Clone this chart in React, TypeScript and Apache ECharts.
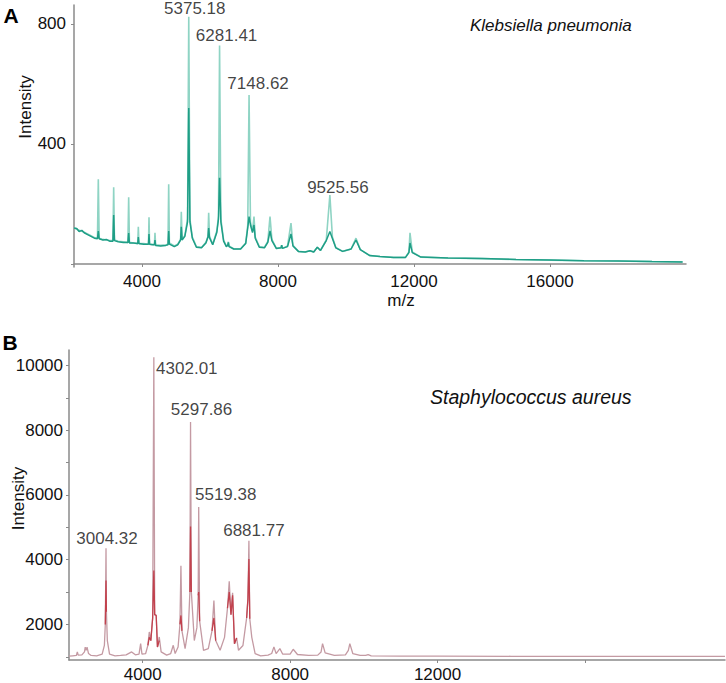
import React, { useEffect, useRef } from "react";
import * as echarts from "echarts";

// ---- Panel A: Klebsiella pneumonia  [m/z, light trace, dark trace]
const A_PROFILE: number[][] = [
  [2000, 120, 120], [2080, 116, 118], [2150, 112, 108], [2230, 110, 112], [2300, 106, 104],
  [2400, 100, 98], [2500, 94, 92], [2600, 88, 86], [2690, 86, 84], [2715, 282, 110],
  [2740, 86, 84], [2850, 82, 80], [2950, 80, 82], [3050, 78, 76], [3145, 78, 76],
  [3167, 256, 163], [3190, 80, 78], [3300, 76, 74], [3450, 74, 72], [3585, 72, 72],
  [3608, 222, 103], [3630, 72, 70], [3750, 70, 70], [3875, 68, 68], [3892, 124, 90],
  [3910, 68, 68], [4050, 68, 66], [4190, 66, 66], [4206, 156, 100], [4222, 66, 66],
  [4300, 66, 64], [4365, 64, 64], [4382, 104, 80], [4400, 64, 62], [4550, 62, 60],
  [4700, 64, 62], [4765, 66, 64], [4785, 266, 110], [4805, 70, 66], [4950, 60, 58],
  [5050, 66, 64], [5135, 82, 80], [5156, 174, 124], [5180, 82, 80], [5260, 95, 92],
  [5340, 150, 140], [5375.18, 824, 520], [5410, 150, 140], [5480, 90, 86], [5600, 58, 56],
  [5750, 55, 54], [5880, 72, 70], [5940, 92, 90], [5961, 171, 120], [5985, 92, 88],
  [6080, 66, 64], [6200, 110, 105], [6250, 160, 150], [6281.41, 728, 287], [6320, 150, 140],
  [6400, 80, 76], [6480, 60, 58], [6520, 64, 62], [6540, 74, 72], [6560, 60, 58],
  [6700, 50, 50], [6900, 50, 50], [7050, 70, 68], [7110, 130, 120], [7148.62, 563, 158],
  [7190, 140, 130], [7250, 110, 105], [7294, 158, 130], [7330, 90, 86], [7450, 58, 56],
  [7600, 55, 54], [7700, 75, 72], [7765, 158, 110], [7820, 82, 78], [7950, 52, 52],
  [8090, 54, 54], [8108, 63, 63], [8130, 52, 52], [8280, 60, 58], [8382, 136, 100],
  [8440, 62, 60], [8600, 42, 42], [8800, 40, 40], [8941, 44, 44], [9050, 40, 40],
  [9157, 56, 56], [9250, 45, 45], [9420, 80, 78], [9525.56, 230, 108], [9600, 90, 85],
  [9700, 55, 54], [9900, 42, 42], [10150, 50, 50], [10294, 86, 80], [10420, 48, 48],
  [10700, 28, 28], [11000, 25, 25], [11400, 22, 22], [11750, 22, 22], [11850, 40, 38],
  [11882, 104, 70], [11950, 40, 38], [12200, 23, 23], [13000, 20, 20], [14000, 18, 18],
  [15000, 15, 15], [16000, 13, 13], [17000, 11, 11], [18000, 10, 10], [19000, 8, 8],
  [19900, 7, 7],
];
const A_PEAKS: [number, number, string][] = [
  [5375.18, 824, "5375.18"],
  [6281.41, 728, "6281.41"],
  [7148.62, 563, "7148.62"],
  [9525.56, 230, "9525.56"],
];
const A_X_TICKS = [4000, 8000, 12000, 16000];
const A_Y_TICKS = [0, 400, 800];
const A_Y_LABELS = [400, 800];

// ---- Panel B: Staphylococcus aureus  [m/z, light trace, dark trace (null = no dark overlay)]
const B_PROFILE: (number | null)[][] = [
  [2000, 1020, null], [2100, 1030, null], [2200, 1040, null], [2226, 1150, null], [2250, 1050, null],
  [2350, 1060, null], [2420, 1150, null], [2440, 1300, null], [2465, 1200, null], [2490, 1300, null],
  [2530, 1100, null], [2600, 1040, null], [2750, 1030, null], [2900, 1080, null], [2960, 1350, null],
  [2985, 2000, 2000], [3004.32, 4351, 3354], [3015, 2400, 2390], [3040, 1500, null], [3100, 1080, null],
  [3250, 1030, null], [3400, 1040, null], [3550, 1060, null], [3700, 1150, null], [3800, 1060, null],
  [3900, 1080, null], [3944, 1406, null], [3980, 1080, null], [4080, 1100, null], [4140, 1350, 1350],
  [4178, 1766, 1600], [4220, 1500, 1500], [4270, 2200, 2200], [4302.01, 10259, 3662], [4325, 2300, 2300],
  [4366, 2277, 2277], [4400, 1300, 1300], [4449, 1612, 1500], [4500, 1150, null], [4650, 1050, null],
  [4760, 1100, null], [4829, 1354, null], [4880, 1100, null], [4960, 1300, null], [5010, 2000, 2000],
  [5037, 3816, 2277], [5065, 1800, 1800], [5150, 1250, null], [5240, 1900, null], [5280, 3000, 3000],
  [5297.86, 8258, 5028], [5320, 3000, 3000], [5400, 1500, null], [5470, 1900, null], [5505, 2900, 2900],
  [5519.38, 5631, 2997], [5545, 2100, 2100], [5650, 1200, null], [5780, 1250, null], [5880, 1800, 1800],
  [5932, 2739, 2200], [5980, 1500, 1500], [6100, 1200, null], [6220, 1600, null], [6300, 2500, 2500],
  [6348, 3335, 2997], [6395, 2300, 2300], [6439, 2975, 2900], [6490, 1400, 1400], [6548, 1581, 1581],
  [6600, 1200, null], [6720, 1350, null], [6820, 2200, 2200], [6855, 2790, 2790], [6881.77, 4585, 4021],
  [6905, 2175, 2175], [6960, 1600, null], [7050, 1100, null], [7200, 1030, null], [7400, 1050, null],
  [7500, 1100, null], [7560, 1305, null], [7620, 1100, null], [7722, 1252, null], [7800, 1080, null],
  [8000, 1080, null], [8083, 1231, null], [8200, 1070, null], [8500, 1040, null], [8750, 1050, null],
  [8840, 1150, null], [8880, 1406, null], [8950, 1120, null], [9200, 1040, null], [9500, 1060, null],
  [9580, 1200, null], [9620, 1406, null], [9700, 1100, null], [9900, 1040, null], [10050, 1040, null],
  [10117, 1068, null], [10200, 1030, null], [11000, 1020, null], [12000, 1020, null], [14000, 1015, null],
  [16000, 1015, null], [18000, 1015, null], [19800, 1015, null],
];
const B_PEAKS: [number, number, string][] = [
  [3004.32, 4351, "3004.32"],
  [4302.01, 10259, "4302.01"],
  [5297.86, 8258, "5297.86"],
  [5519.38, 5631, "5519.38"],
  [6881.77, 4585, "6881.77"],
];
const B_X_TICKS = [4000, 8000, 12000, 16000];
const B_X_LABELS = [4000, 8000, 12000];
const B_Y_TICKS = [1000, 2000, 3000, 4000, 5000, 6000, 7000, 8000, 9000, 10000];
const B_Y_LABELS = [2000, 4000, 6000, 8000, 10000];

// label offsets (style only)
const A_LABEL_OFFSETS = [[6, -8], [7, -10], [9, -12], [8, -7]];
const B_LABEL_OFFSETS = [[1, -10], [33, 11], [11, -12], [27, -12], [5, -10]];

const FONT = "Liberation Sans, Arial, Helvetica, sans-serif";
const AXIS_COLOR = "#8a8a8a";
const TEXT_COLOR = "#111111";

export default function App() {
  const ref = useRef<HTMLDivElement>(null);
  useEffect(() => {
    if (!ref.current) return;
    const chart = echarts.init(ref.current, null, { renderer: "svg" });

    const plain = (v: number) => String(v);
    const axisCommon = {
      type: "value",
      axisLine: { show: true, lineStyle: { color: AXIS_COLOR, width: 1.5 } },
      splitLine: { show: false },
    };
    const tickStyle = (vals: number[]) => ({
      show: true,
      customValues: vals,
      length: 3,
      lineStyle: { color: AXIS_COLOR },
    });
    const labelStyle = (vals: number[], margin: number) => ({
      customValues: vals,
      formatter: plain,
      fontSize: 17,
      color: TEXT_COLOR,
      margin,
      fontFamily: FONT,
    });
    const labelSeries = (peaks: [number, number, string][], offs: number[][], xi: number) => ({
      type: "scatter",
      xAxisIndex: xi,
      yAxisIndex: xi,
      symbol: "circle",
      symbolSize: 1,
      silent: true,
      z: 10,
      itemStyle: { color: "rgba(0,0,0,0)" },
      data: peaks.map((p, i) => ({
        value: [p[0], p[1]],
        name: p[2],
        label: { offset: offs[i] },
      })),
      label: {
        show: true,
        position: "inside",
        align: "center",
        verticalAlign: "middle",
        formatter: (d: any) => d.name,
        fontSize: 17,
        color: TEXT_COLOR,
        fontFamily: FONT,
      },
    });

    chart.setOption({
      animation: false,
      backgroundColor: "#ffffff",
      textStyle: { fontFamily: FONT },
      grid: [
        { left: 74, top: 5, width: 612, height: 262 },
        { left: 69, top: 350, width: 656, height: 311.5 },
      ],
      xAxis: [
        { ...axisCommon, gridIndex: 0, min: 2000, max: 20000, axisTick: tickStyle(A_X_TICKS), axisLabel: labelStyle(A_X_TICKS, 6) },
        { ...axisCommon, gridIndex: 1, min: 2000, max: 19800, axisTick: tickStyle(B_X_TICKS), axisLabel: labelStyle(B_X_LABELS, 6) },
      ],
      yAxis: [
        { ...axisCommon, gridIndex: 0, min: -10, max: 863, axisTick: tickStyle(A_Y_TICKS), axisLabel: labelStyle(A_Y_LABELS, 8) },
        { ...axisCommon, gridIndex: 1, min: 900, max: 10480, axisTick: tickStyle(B_Y_TICKS), axisLabel: labelStyle(B_Y_LABELS, 6) },
      ],
      series: [
        {
          type: "line", xAxisIndex: 0, yAxisIndex: 0, symbol: "none", z: 2,
          lineStyle: { color: "#8fd4c4", width: 1.6 },
          data: A_PROFILE.map((r) => [r[0], r[1]]),
        },
        {
          type: "line", xAxisIndex: 0, yAxisIndex: 0, symbol: "none", z: 3,
          lineStyle: { color: "#1f9e86", width: 1.5 },
          data: A_PROFILE.map((r) => [r[0], r[2]]),
        },
        {
          type: "line", xAxisIndex: 1, yAxisIndex: 1, symbol: "none", z: 2,
          lineStyle: { color: "#c49aa3", width: 1.3 },
          data: B_PROFILE.map((r) => [r[0], r[1]]),
        },
        {
          type: "line", xAxisIndex: 1, yAxisIndex: 1, symbol: "none", z: 3, connectNulls: false,
          lineStyle: { color: "#c2414d", width: 1.3 },
          data: B_PROFILE.map((r) => [r[0], r[2] === null ? "-" : r[2]]),
        },
        labelSeries(A_PEAKS, A_LABEL_OFFSETS, 0),
        labelSeries(B_PEAKS, B_LABEL_OFFSETS, 1),
      ],
      graphic: [
        { type: "text", x: 11, y: 15, style: { text: "A", fontSize: 21, fontWeight: "bold", fontFamily: FONT, fill: "#000", align: "center", verticalAlign: "middle" } },
        { type: "text", x: 10, y: 342, style: { text: "B", fontSize: 21, fontWeight: "bold", fontFamily: FONT, fill: "#000", align: "center", verticalAlign: "middle" } },
        { type: "text", x: 470, y: 25, style: { text: "Klebsiella pneumonia", fontSize: 17, fontStyle: "italic", fontFamily: FONT, fill: TEXT_COLOR, align: "left", verticalAlign: "middle" } },
        { type: "text", x: 430, y: 397, style: { text: "Staphylococcus aureus", fontSize: 19.5, fontStyle: "italic", fontFamily: FONT, fill: TEXT_COLOR, align: "left", verticalAlign: "middle" } },
        { type: "text", x: 25, y: 107, rotation: Math.PI / 2, style: { text: "Intensity", fontSize: 17, fontFamily: FONT, fill: TEXT_COLOR, align: "center", verticalAlign: "middle" } },
        { type: "text", x: 18.5, y: 498.5, rotation: Math.PI / 2, style: { text: "Intensity", fontSize: 17, fontFamily: FONT, fill: TEXT_COLOR, align: "center", verticalAlign: "middle" } },
        { type: "text", x: 401, y: 300.5, style: { text: "m/z", fontSize: 17, fontFamily: FONT, fill: TEXT_COLOR, align: "center", verticalAlign: "middle" } },
      ],
    });
    return () => chart.dispose();
  }, []);

  return (
    <div
      ref={ref}
      style={{ position: "absolute", left: 0, top: 0, width: 726, height: 683, background: "#fff" }}
    />
  );
}
